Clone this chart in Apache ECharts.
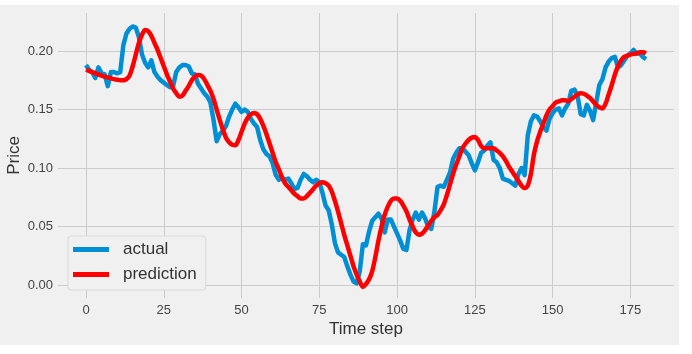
<!DOCTYPE html>
<html>
<head>
<meta charset="utf-8">
<script src="https://cdn.jsdelivr.net/npm/echarts@6/dist/echarts.min.js"></script>
<style>
html,body{margin:0;padding:0;background:#ffffff;width:692px;height:354px;overflow:hidden;}
#chart{position:absolute;left:0;top:5px;width:679px;height:340px;background:#f0f0f0;}
</style>
</head>
<body>
<div id="chart"></div>
<script>
const xTicks = [0, 25, 50, 75, 100, 125, 150, 175];
const yTicks = [0, 0.05, 0.10, 0.15, 0.20];

const actual = [
0.188,0.184,0.182,0.177,0.186,0.181,0.180,0.170,0.182,0.182,
0.181,0.182,0.205,0.215,0.219,0.221,0.220,0.212,0.197,0.190,
0.186,0.192,0.182,0.178,0.175,0.173,0.171,0.169,0.170,0.182,
0.186,0.188,0.188,0.187,0.181,0.180,0.172,0.168,0.164,0.161,
0.156,0.141,0.123,0.129,0.132,0.136,0.144,0.150,0.155,0.152,
0.148,0.150,0.148,0.142,0.138,0.135,0.124,0.116,0.112,0.110,
0.104,0.094,0.090,0.092,0.090,0.091,0.087,0.082,0.083,0.090,
0.095,0.093,0.090,0.088,0.090,0.088,0.079,0.068,0.064,0.052,
0.036,0.028,0.026,0.024,0.016,0.009,0.003,0.0015,0.012,0.035,
0.034,0.046,0.055,0.058,0.061,0.057,0.045,0.056,0.056,0.050,
0.044,0.038,0.031,0.030,0.047,0.056,0.062,0.056,0.062,0.057,
0.050,0.048,0.063,0.084,0.085,0.084,0.090,0.096,0.108,0.113,
0.117,0.117,0.114,0.111,0.104,0.098,0.105,0.113,0.115,0.119,
0.122,0.107,0.105,0.100,0.091,0.090,0.089,0.087,0.085,0.095,
0.100,0.094,0.128,0.140,0.145,0.144,0.140,0.135,0.132,0.142,
0.147,0.150,0.151,0.145,0.151,0.155,0.166,0.167,0.162,0.146,
0.145,0.154,0.149,0.141,0.156,0.171,0.176,0.186,0.191,0.194,
0.195,0.186,0.188,0.192,0.196,0.198,0.201,0.198,0.198,0.195,
0.193
];

const prediction = [
0.184,0.183,0.182,0.181,0.180,0.179,0.178,0.1775,0.1767,0.176,
0.1755,0.175,0.175,0.176,0.179,0.187,0.197,0.207,0.214,0.218,
0.217,0.213,0.207,0.201,0.194,0.187,0.180,0.174,0.168,0.164,
0.161,0.162,0.166,0.170,0.175,0.178,0.1795,0.179,0.176,0.171,
0.166,0.159,0.150,0.141,0.133,0.126,0.122,0.120,0.1195,0.124,
0.131,0.138,0.143,0.146,0.147,0.146,0.142,0.136,0.129,0.121,
0.113,0.105,0.099,0.092,0.087,0.084,0.081,0.078,0.076,0.074,
0.074,0.076,0.079,0.082,0.085,0.087,0.088,0.087,0.085,0.080,
0.072,0.063,0.053,0.043,0.034,0.025,0.016,0.009,0.003,-0.0015,
0.001,0.005,0.012,0.024,0.038,0.050,0.060,0.067,0.072,0.074,
0.074,0.072,0.068,0.063,0.056,0.050,0.045,0.043,0.044,0.047,
0.051,0.055,0.058,0.060,0.064,0.069,0.077,0.086,0.095,0.103,
0.110,0.117,0.121,0.124,0.126,0.1265,0.124,0.119,0.117,0.117,
0.117,0.117,0.115,0.113,0.110,0.106,0.101,0.097,0.093,0.089,
0.085,0.083,0.085,0.095,0.112,0.123,0.131,0.138,0.145,0.150,
0.153,0.156,0.157,0.158,0.158,0.157,0.159,0.161,0.163,0.164,
0.1635,0.162,0.160,0.157,0.154,0.152,0.151,0.155,0.163,0.171,
0.180,0.187,0.192,0.195,0.196,0.197,0.1975,0.198,0.199,0.199,
0.198
];

const actualPairs = actual.map((v, i) => [i, v]);
const predictionPairs = prediction.map((v, i) => [i, v]);

const FONT = 'Liberation Sans, Arial, sans-serif';
const chart = echarts.init(document.getElementById('chart'), null, {renderer: 'canvas'});
chart.setOption({
  backgroundColor: 'transparent',
  animation: false,
  grid: {left: 58, right: 5, top: 8, bottom: 47, containLabel: false, outerBoundsMode: 'none'},
  xAxis: {
    type: 'value', min: -9, max: 189,
    name: 'Time step', nameLocation: 'middle', nameGap: 23, nameMoveOverlap: false,
    nameTextStyle: {fontFamily: FONT, fontSize: 17, color: '#333'},
    axisLine: {show: false}, axisTick: {show: false, customValues: xTicks},
    axisLabel: {customValues: xTicks, fontFamily: FONT, fontSize: 13, color: '#444', margin: 6},
    splitLine: {show: true, lineStyle: {color: '#cbcbcb', width: 1}}
  },
  yAxis: {
    type: 'value', min: -0.011, max: 0.2325,
    name: 'Price', nameLocation: 'middle', nameGap: 35, nameMoveOverlap: false,
    nameTextStyle: {fontFamily: FONT, fontSize: 17, color: '#333'},
    axisLine: {show: false}, axisTick: {show: false, customValues: yTicks},
    axisLabel: {customValues: yTicks, fontFamily: FONT, fontSize: 13, color: '#444', margin: 5,
      formatter: v => v.toFixed(2)},
    splitLine: {show: true, lineStyle: {color: '#cbcbcb', width: 1}}
  },
  legend: {
    left: 68, top: 231, orient: 'vertical',
    icon: 'rect', itemWidth: 36, itemHeight: 5, itemGap: 8,
    padding: [5, 9, 7, 5],
    backgroundColor: '#f0f0f0', borderColor: '#dadada', borderWidth: 1, borderRadius: 3,
    textStyle: {fontFamily: FONT, fontSize: 17, color: '#333', padding: [0, 0, 0, 9]},
    data: ['actual', 'prediction']
  },
  series: [
    {name: 'actual', type: 'line', data: actualPairs, showSymbol: false, symbol: 'none',
     lineStyle: {color: '#008fd5', width: 4.5, join: 'round'}, itemStyle: {color: '#008fd5'}, z: 2},
    {name: 'prediction', type: 'line', data: predictionPairs, showSymbol: false, symbol: 'none', smooth: 0.3,
     lineStyle: {color: '#ff0000', width: 4.5, join: 'round'}, itemStyle: {color: '#ff0000'}, z: 3}
  ]
});
</script>
</body>
</html>
